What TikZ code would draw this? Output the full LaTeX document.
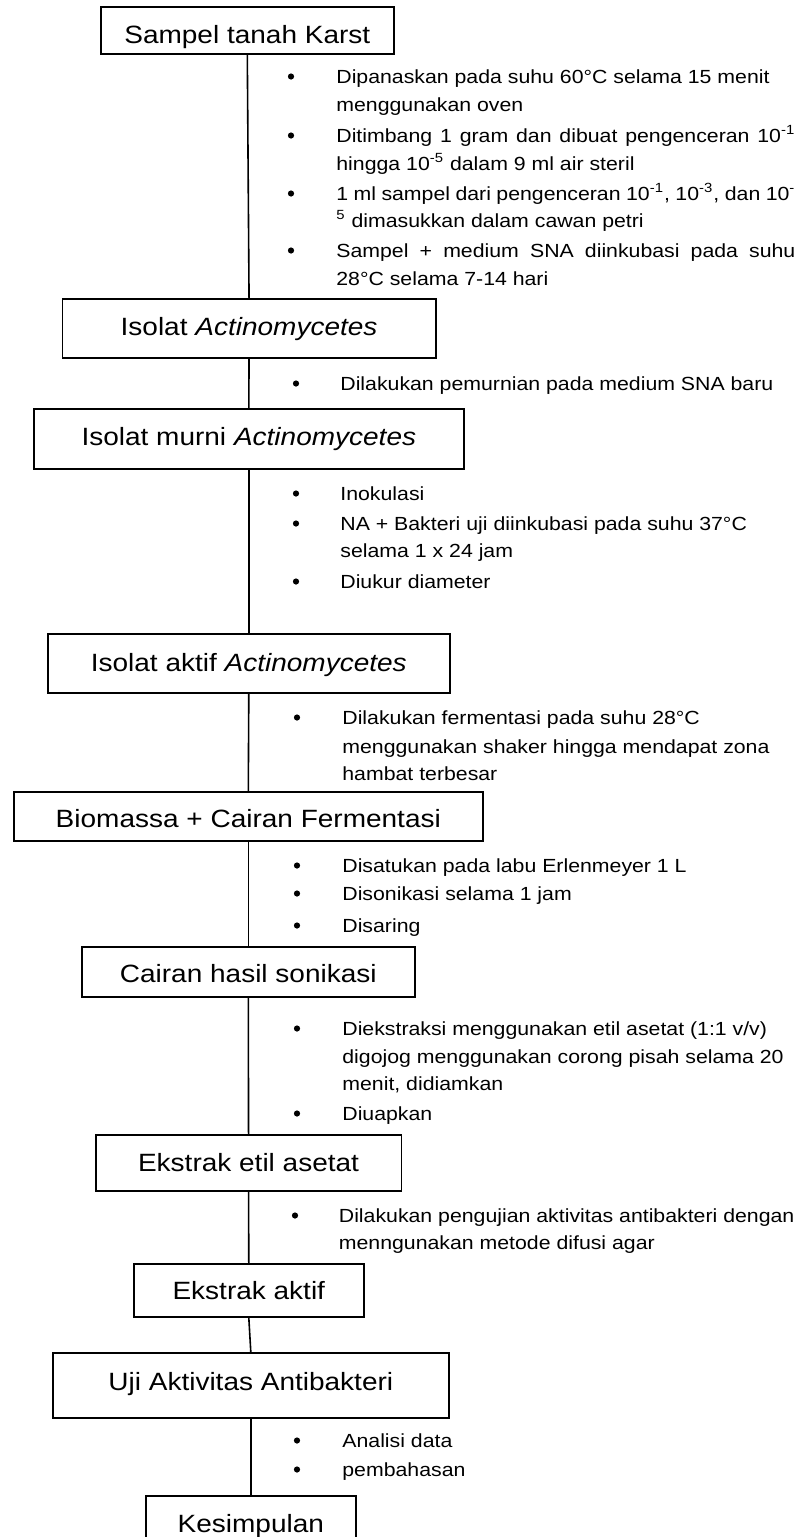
\documentclass[tikz,border=0pt]{standalone}
\usepackage{fontspec}
\setmainfont[FakeStretch=1.12]{Liberation Sans}
\newcommand\myboxfont{\fontsize{12.5}{15}\selectfont}
\newcommand\myitemfont{\fontsize{9.5}{11.4}\selectfont}
\tikzset{
  box/.style={draw, line width=0.8pt, anchor=north west, inner sep=0pt, align=center, font=\myboxfont},
  bul/.style={circle, fill, inner sep=0pt, minimum size=3.1pt},
  itm/.style={anchor=base west, inner sep=0pt, font=\myitemfont},
  conn/.style={line width=0.8pt},
}
\begin{document}
\begin{tikzpicture}[x=0.5pt,y=-0.5pt]
\useasboundingbox (0,0) rectangle (800,1537);
% boxes
\node[box, minimum width=146.5pt, text height=18.35pt, text depth=5.15pt] (b1) at (100,6) {Sampel tanah Karst};
\node[box, minimum width=186.75pt, text height=18.5pt, text depth=11pt] (b2) at (61.5,298) {Isolat \textit{Actinomycetes}};
\node[box, minimum width=215pt, text height=18.5pt, text depth=11.5pt] (b3) at (33,408) {Isolat murni \textit{Actinomycetes}};
\node[box, minimum width=201pt, text height=19pt, text depth=10.5pt] (b4) at (47,633) {Isolat aktif \textit{Actinomycetes}};
\node[box, minimum width=234.5pt, text height=18pt, text depth=6.5pt] (b5) at (13,791) {Biomassa + Cairan Fermentasi};
\node[box, minimum width=166.5pt, text height=18pt, text depth=7pt] (b6) at (81,946) {Cairan hasil sonikasi};
\node[box, minimum width=152.75pt, text height=18.5pt, text depth=9.5pt] (b7) at (95,1134) {Ekstrak etil asetat};
\node[box, minimum width=115pt, text height=18pt, text depth=8.5pt] (b8) at (133,1263) {Ekstrak aktif};
\node[box, minimum width=198pt, text height=19pt, text depth=13.5pt] (b9) at (52,1352) {Uji Aktivitas Antibakteri};
\node[box, minimum width=105pt, text height=18.5pt, text depth=9pt] (b10) at (145,1495) {Kesimpulan};
% connectors
\draw[conn] (b1.south) -- (b2.north);
\draw[conn] (b2.south) -- (b3.north);
\draw[conn] (b3.south) -- (b4.north);
\draw[conn] (b4.south) -- (b5.north);
\draw[conn] (b5.south) -- (b6.north);
\draw[conn] (b6.south) -- (b7.north);
\draw[conn] (b7.south) -- (b8.north);
\draw[conn] (b8.south) -- (b9.north);
\draw[conn] (b9.south) -- (b10.north);
% group 1
\node[bul] (u11) at (291,76.5) {};
\node[itm] (t11) at (336,83) {Dipanaskan pada suhu 60°C selama 15 menit};
\node[itm] (t12) at (336,111) {menggunakan oven};
\node[bul] (u12) at (291,135.5) {};
\node[itm] (t13) at (336,142) {\makebox[229.5pt][s]{Ditimbang 1 gram dan dibuat pengenceran 10\textsuperscript{-1}}};
\node[itm] (t14) at (336,170) {hingga 10\textsuperscript{-5} dalam 9 ml air steril};
\node[bul] (u13) at (291,193.5) {};
\node[itm] (t15) at (336,200) {\makebox[229.5pt][s]{1 ml sampel dari pengenceran 10\textsuperscript{-1}, 10\textsuperscript{-3}, dan 10\textsuperscript{-}}};
\node[itm] (t16) at (336,227) {\textsuperscript{5} dimasukkan dalam cawan petri};
\node[bul] (u14) at (291,250.5) {};
\node[itm] (t17) at (336,257) {\makebox[229.5pt][s]{Sampel + medium SNA diinkubasi pada suhu}};
\node[itm] (t18) at (336,285) {28°C selama 7-14 hari};
% group 2
\node[bul] (u21) at (296,383.5) {};
\node[itm] (t21) at (340,390) {Dilakukan pemurnian pada medium SNA baru};
% group 3
\node[bul] (u31) at (296,493.5) {};
\node[itm] (t31) at (340,500) {Inokulasi};
\node[bul] (u32) at (296,523.5) {};
\node[itm] (t32) at (340,530) {NA + Bakteri uji diinkubasi pada suhu 37°C};
\node[itm] (t33) at (340,557) {selama 1 x 24 jam};
\node[bul] (u33) at (296,581.5) {};
\node[itm] (t34) at (340,588) {Diukur diameter};
% group 4
\node[bul] (u41) at (297,717.5) {};
\node[itm] (t41) at (342,724) {Dilakukan fermentasi pada suhu 28°C};
\node[itm] (t42) at (342,753) {menggunakan shaker hingga mendapat zona};
\node[itm] (t43) at (342,780) {hambat terbesar};
% group 5
\node[bul] (u51) at (297,865.5) {};
\node[itm] (t51) at (342,872) {Disatukan pada labu Erlenmeyer 1 L};
\node[bul] (u52) at (297,893.5) {};
\node[itm] (t52) at (342,900) {Disonikasi selama 1 jam};
\node[bul] (u53) at (297,925.5) {};
\node[itm] (t53) at (342,932) {Disaring};
% group 6
\node[bul] (u61) at (297,1028.5) {};
\node[itm] (t61) at (342,1035) {Diekstraksi menggunakan etil asetat (1:1 v/v)};
\node[itm] (t62) at (342,1063) {digojog menggunakan corong pisah selama 20};
\node[itm] (t63) at (342,1090) {menit, didiamkan};
\node[bul] (u62) at (297,1113.5) {};
\node[itm] (t64) at (342,1120) {Diuapkan};
% group 7
\node[bul] (u71) at (295,1215.5) {};
\node[itm] (t71) at (338.5,1222) {Dilakukan pengujian aktivitas antibakteri dengan};
\node[itm] (t72) at (338.5,1249) {menngunakan metode difusi agar};
% group 8
\node[bul] (u81) at (297,1440.5) {};
\node[itm] (t81) at (342,1447) {Analisi data};
\node[bul] (u82) at (297,1469.5) {};
\node[itm] (t82) at (342,1476) {pembahasan};
\end{tikzpicture}
\end{document}
